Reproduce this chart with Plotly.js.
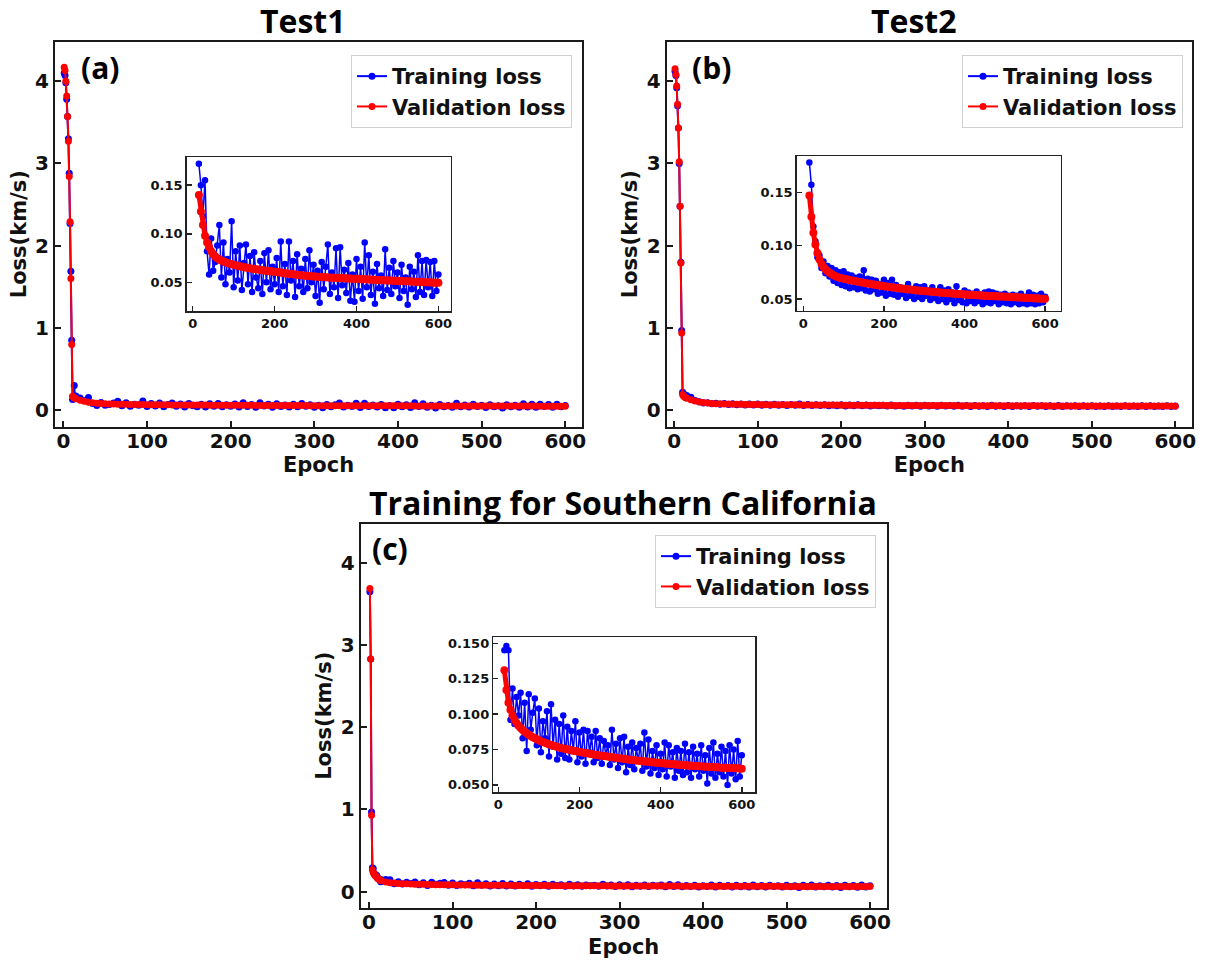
<!DOCTYPE html>
<html>
<head>
<meta charset="utf-8">
<script src="https://cdn.plot.ly/plotly-3.0.1.min.js"></script>
<style>
html,body{margin:0;padding:0;background:#ffffff;}
#chart{width:1206px;height:960px;}
</style>
</head>
<body>
<div id="chart"></div>
<script>
// ---------------- DATA ----------------
const epochs = [1,2,3,4,5,6,7,8,9,10,11,12,13,14,
15,20,25,30,35,40,45,50,55,60,
65,70,75,80,85,90,95,100,105,110,
115,120,125,130,135,140,145,150,155,160,
165,170,175,180,185,190,195,200,205,210,
215,220,225,230,235,240,245,250,255,260,
265,270,275,280,285,290,295,300,305,310,
315,320,325,330,335,340,345,350,355,360,
365,370,375,380,385,390,395,400,405,410,
415,420,425,430,435,440,445,450,455,460,
465,470,475,480,485,490,495,500,505,510,
515,520,525,530,535,540,545,550,555,560,
565,570,575,580,585,590,595,600];

// Panel (a) Test1
const trainLossA = [4.10,4.07,3.98,3.78,3.57,3.30,2.88,2.27,1.69,0.85,0.13,0.16,0.30,0.14,
0.172,0.150,0.118,0.155,0.082,0.058,0.095,0.062,0.071,0.088,
0.109,0.055,0.091,0.048,0.074,0.060,0.113,0.045,0.082,0.052,
0.088,0.042,0.070,0.089,0.048,0.077,0.040,0.081,0.055,0.044,
0.072,0.038,0.080,0.050,0.083,0.043,0.066,0.048,0.075,0.040,
0.092,0.046,0.069,0.037,0.092,0.052,0.072,0.035,0.079,0.046,
0.064,0.040,0.074,0.044,0.083,0.050,0.068,0.036,0.062,0.029,
0.071,0.043,0.066,0.089,0.038,0.060,0.045,0.085,0.034,0.086,
0.047,0.063,0.039,0.070,0.031,0.058,0.030,0.074,0.041,0.066,
0.033,0.091,0.045,0.078,0.037,0.061,0.028,0.069,0.044,0.057,
0.036,0.084,0.042,0.065,0.038,0.072,0.046,0.060,0.034,0.068,
0.041,0.055,0.027,0.066,0.043,0.061,0.035,0.078,0.040,0.072,
0.037,0.073,0.045,0.071,0.036,0.072,0.041,0.058];
const valLossA = [4.17,4.13,4.00,3.82,3.57,3.27,2.84,2.29,1.60,0.80,0.170,0.158,0.150,0.145,
0.140,0.123,0.109,0.098,0.091,0.086,0.082,0.079,0.0765,0.0748,
0.0735,0.0724,0.0714,0.0706,0.0700,0.0692,0.0686,0.0680,0.0675,0.0670,
0.0665,0.0660,0.0656,0.0652,0.0648,0.0644,0.0640,0.0637,0.0634,0.0631,
0.0628,0.0625,0.0622,0.0619,0.0616,0.0614,0.0612,0.0609,0.0606,0.0603,
0.0600,0.0597,0.0594,0.0591,0.0588,0.0585,0.0582,0.0580,0.0577,0.0575,
0.0573,0.0571,0.0569,0.0567,0.0565,0.0563,0.0561,0.0559,0.0558,0.0556,
0.0555,0.0553,0.0552,0.0550,0.0549,0.0548,0.0547,0.0546,0.0545,0.0544,
0.0543,0.0542,0.0541,0.0540,0.0539,0.0538,0.0537,0.0536,0.0535,0.0534,
0.0532,0.0531,0.0530,0.0529,0.0528,0.0527,0.0526,0.0525,0.0524,0.0523,
0.0522,0.0521,0.0520,0.0519,0.0518,0.0517,0.0516,0.0515,0.0514,0.0513,
0.0512,0.0511,0.0510,0.0509,0.0508,0.0507,0.0506,0.0505,0.0504,0.0503,
0.0502,0.0501,0.0500,0.0499,0.0498,0.0497,0.0496,0.0495];

// Panel (b) Test2
const trainLossB = [4.12,4.07,3.92,3.70,3.43,3.00,2.48,1.80,0.97,0.22,0.20,0.19,0.17,0.16,
0.178,0.157,0.118,0.104,0.089,0.091,0.079,0.085,0.074,0.081,
0.071,0.079,0.067,0.077,0.065,0.075,0.063,0.076,0.062,0.073,
0.060,0.072,0.061,0.070,0.059,0.071,0.060,0.077,0.058,0.069,
0.057,0.068,0.059,0.067,0.055,0.064,0.056,0.068,0.053,0.065,
0.055,0.068,0.054,0.063,0.052,0.061,0.055,0.060,0.051,0.064,
0.053,0.059,0.050,0.062,0.052,0.061,0.050,0.062,0.053,0.058,
0.049,0.061,0.051,0.057,0.048,0.061,0.050,0.058,0.047,0.059,
0.050,0.056,0.046,0.062,0.049,0.055,0.047,0.058,0.046,0.056,
0.048,0.055,0.046,0.057,0.048,0.054,0.045,0.056,0.047,0.057,
0.046,0.056,0.048,0.055,0.045,0.054,0.047,0.055,0.046,0.053,
0.045,0.054,0.047,0.053,0.045,0.055,0.046,0.052,0.045,0.056,
0.046,0.054,0.045,0.053,0.046,0.055,0.047,0.052];
const valLossB = [4.15,4.08,3.94,3.72,3.43,3.02,2.48,1.79,0.94,0.19,0.175,0.165,0.157,0.152,
0.147,0.127,0.112,0.101,0.093,0.087,0.083,0.0800,0.0778,0.0760,
0.0745,0.0733,0.0723,0.0714,0.0707,0.0700,0.0695,0.0690,0.0686,0.0682,
0.0678,0.0674,0.0670,0.0666,0.0662,0.0658,0.0655,0.0651,0.0648,0.0645,
0.0642,0.0638,0.0635,0.0632,0.0629,0.0626,0.0623,0.0620,0.0617,0.0614,
0.0612,0.0609,0.0607,0.0604,0.0602,0.0599,0.0597,0.0595,0.0592,0.0590,
0.0588,0.0586,0.0584,0.0582,0.0580,0.0578,0.0576,0.0574,0.0572,0.0570,
0.0569,0.0567,0.0565,0.0563,0.0562,0.0560,0.0559,0.0557,0.0556,0.0554,
0.0553,0.0551,0.0550,0.0548,0.0547,0.0546,0.0544,0.0543,0.0542,0.0540,
0.0539,0.0538,0.0537,0.0535,0.0534,0.0533,0.0532,0.0531,0.0530,0.0529,
0.0528,0.0527,0.0526,0.0525,0.0524,0.0523,0.0522,0.0521,0.0520,0.0519,
0.0518,0.0517,0.0516,0.0515,0.0514,0.0513,0.0512,0.0511,0.0510,0.0509,
0.0508,0.0507,0.0506,0.0505,0.0504,0.0503,0.0502,0.0501];

// Panel (c) Training for Southern California
const trainLossC = [3.65,2.83,0.97,0.29,0.28,0.22,0.21,0.19,0.20,0.17,0.16,0.15,0.14,0.12,
0.145,0.148,0.145,0.096,0.118,0.093,0.112,0.099,0.115,0.083,
0.108,0.074,0.114,0.089,0.101,0.111,0.078,0.104,0.073,0.095,
0.083,0.102,0.070,0.107,0.077,0.096,0.068,0.093,0.072,0.099,
0.069,0.091,0.068,0.088,0.074,0.095,0.066,0.087,0.070,0.089,
0.065,0.088,0.073,0.084,0.066,0.088,0.069,0.083,0.065,0.081,
0.071,0.078,0.064,0.089,0.068,0.079,0.062,0.083,0.066,0.084,
0.059,0.077,0.064,0.080,0.061,0.076,0.067,0.079,0.060,0.087,
0.063,0.082,0.058,0.074,0.062,0.078,0.057,0.072,0.061,0.080,
0.056,0.078,0.063,0.073,0.055,0.076,0.060,0.074,0.057,0.079,
0.059,0.073,0.055,0.077,0.061,0.072,0.056,0.078,0.060,0.071,
0.051,0.076,0.058,0.080,0.055,0.072,0.059,0.077,0.056,0.074,
0.050,0.078,0.058,0.075,0.054,0.081,0.056,0.071];
const valLossC = [3.69,2.83,0.93,0.265,0.235,0.215,0.200,0.188,0.176,0.166,0.157,0.149,0.142,0.136,
0.131,0.117,0.108,0.103,0.0990,0.0960,0.0937,0.0918,0.0902,0.0888,
0.0876,0.0865,0.0855,0.0845,0.0837,0.0829,0.0822,0.0815,0.0809,0.0803,
0.0797,0.0792,0.0787,0.0782,0.0777,0.0773,0.0769,0.0765,0.0761,0.0758,
0.0754,0.0751,0.0748,0.0745,0.0742,0.0739,0.0736,0.0733,0.0730,0.0728,
0.0725,0.0723,0.0720,0.0718,0.0715,0.0713,0.0711,0.0708,0.0706,0.0704,
0.0702,0.0700,0.0698,0.0696,0.0694,0.0692,0.0690,0.0688,0.0686,0.0684,
0.0682,0.0680,0.0678,0.0676,0.0675,0.0673,0.0671,0.0670,0.0668,0.0666,
0.0665,0.0663,0.0662,0.0660,0.0659,0.0657,0.0656,0.0655,0.0653,0.0652,
0.0650,0.0649,0.0648,0.0647,0.0645,0.0644,0.0643,0.0642,0.0641,0.0640,
0.0638,0.0637,0.0636,0.0635,0.0634,0.0633,0.0632,0.0631,0.0630,0.0629,
0.0628,0.0627,0.0627,0.0626,0.0625,0.0624,0.0623,0.0622,0.0622,0.0621,
0.0620,0.0619,0.0619,0.0618,0.0617,0.0617,0.0616,0.0615];

const panelTitles = ['Test1', 'Test2', 'Training for Southern California'];
const panelLabels = ['(a)', '(b)', '(c)'];
const seriesNames = ['Training loss', 'Validation loss'];
const xTitle = 'Epoch';
const yTitle = 'Loss(km/s)';
const mainXTicks = [0, 100, 200, 300, 400, 500, 600];
const mainYTicks = [0, 1, 2, 3, 4];
const insetXTicks = [0, 200, 400, 600];
const insetYTicksAB = [0.05, 0.10, 0.15];
const insetYTicksC = [0.050, 0.075, 0.100, 0.125, 0.150];
const insetStartEpoch = 15;

// ---------------- STYLE / LAYOUT ----------------
const W = 1206, H = 960;
const BLUE = '#0000ff', RED = '#ff0000', INK = '#111111';
const FONT = 'DejaVu Sans';
const TITLE_FONT = 'Open Sans';
const px = v => v / W;
const py = v => 1 - v / H;

function sub(arr, start) {
  const n = Math.min(arr.length, epochs.length);
  const xs = [], ys = [];
  for (let i = 0; i < n; i++) {
    if (epochs[i] >= start) { xs.push(epochs[i]); ys.push(arr[i]); }
  }
  return {xs, ys};
}

const traces = [];
const panels = [
  {train: trainLossA, val: valLossA, main: 1, inset: 4, legend: 'legend'},
  {train: trainLossB, val: valLossB, main: 2, inset: 5, legend: 'legend2'},
  {train: trainLossC, val: valLossC, main: 3, inset: 6, legend: 'legend3'}
];
panels.forEach(p => {
  const xa = p.main === 1 ? 'x' : 'x' + p.main;
  const ya = p.main === 1 ? 'y' : 'y' + p.main;
  const n = Math.min(epochs.length, p.train.length, p.val.length);
  [[p.train, BLUE, seriesNames[0]], [p.val, RED, seriesNames[1]]].forEach(([arr, col, name]) => {
    traces.push({
      type: 'scatter', mode: 'lines+markers', name: name,
      x: epochs.slice(0, n), y: arr.slice(0, n), xaxis: xa, yaxis: ya,
      legend: p.legend, showlegend: true,
      line: {color: col, width: 2},
      marker: {color: col, size: 7}
    });
  });
  const ins = [[p.train, BLUE, 1.5, 6.5], [p.val, RED, 5, 8]];
  ins.forEach(([arr, col, lw, ms]) => {
    const s = sub(arr, insetStartEpoch);
    traces.push({
      type: 'scatter', mode: 'lines+markers', showlegend: false,
      x: s.xs, y: s.ys, xaxis: 'x' + p.inset, yaxis: 'y' + p.inset,
      line: {color: col, width: lw},
      marker: {color: col, size: ms}
    });
  });
});

const tickFontMain = {family: FONT, size: 20, weight: 'bold', color: INK};
const tickFontInset = {family: FONT, size: 13, weight: 'bold', color: INK};
const axisTitleFont = {family: FONT, size: 21, weight: 'bold', color: INK};

function mainX(domain, range, anchor) {
  return {domain, range, anchor, showline: true, mirror: true, linecolor: '#1a1a1a', linewidth: 2,
    ticks: 'inside', ticklen: 6, tickwidth: 2, tickcolor: '#1a1a1a', showgrid: false, zeroline: false,
    tickmode: 'array', tickvals: mainXTicks, tickfont: tickFontMain, automargin: false,
    ticklabelstandoff: -5,
    title: {text: xTitle, font: axisTitleFont, standoff: 6}};
}
function mainY(domain, range, anchor) {
  return {domain, range, anchor, showline: true, mirror: true, linecolor: '#1a1a1a', linewidth: 2,
    ticks: 'inside', ticklen: 6, tickwidth: 2, tickcolor: '#1a1a1a', showgrid: false, zeroline: false,
    tickmode: 'array', tickvals: mainYTicks, tickfont: tickFontMain, automargin: false,
    title: {text: yTitle, font: axisTitleFont, standoff: 3}};
}
function insetX(domain, range, anchor) {
  return {domain, range, anchor, showline: true, mirror: true, linecolor: '#222', linewidth: 1.5,
    ticks: 'inside', ticklen: 5, tickwidth: 1.5, tickcolor: '#222', showgrid: false, zeroline: false,
    tickmode: 'array', tickvals: insetXTicks, tickfont: tickFontInset, automargin: false};
}
function insetY(domain, range, anchor, vals, fmt) {
  return {domain, range, anchor, showline: true, mirror: true, linecolor: '#222', linewidth: 1.5,
    ticks: 'inside', ticklen: 5, tickwidth: 1.5, tickcolor: '#222', showgrid: false, zeroline: false,
    tickmode: 'array', tickvals: vals, tickformat: fmt, tickfont: tickFontInset, automargin: false};
}

const legendBase = {xanchor: 'right', yanchor: 'top', bgcolor: '#ffffff', bordercolor: '#d0d0d0', borderwidth: 1,
  font: {family: FONT, size: 21, weight: 'bold', color: INK}};

const titleFont = {family: TITLE_FONT, size: 32, weight: 'bold', color: '#000'};
const labelFont = {family: TITLE_FONT, size: 30, weight: 'bold', color: '#000'};

const layout = {
  width: W, height: H,
  margin: {l: 0, r: 0, t: 0, b: 0},
  paper_bgcolor: '#ffffff', plot_bgcolor: '#ffffff',
  showlegend: true,
  xaxis:  mainX([px(55), px(582)], [-10, 620], 'y'),
  yaxis:  mainY([py(426.7), py(41.7)], [-0.2, 4.48], 'x'),
  xaxis2: mainX([px(666.7), px(1192)], [-9, 620], 'y2'),
  yaxis2: mainY([py(426.7), py(41.7)], [-0.2, 4.48], 'x2'),
  xaxis3: mainX([px(360.7), px(886.7)], [-10, 620], 'y3'),
  yaxis3: mainY([py(908), py(523.5)], [-0.2, 4.48], 'x3'),
  xaxis4: insetX([px(186.7), px(450.7)], [-14.7, 630], 'y4'),
  yaxis4: insetY([py(311), py(157)], [0.0205, 0.179], 'x4', insetYTicksAB, '.2f'),
  xaxis5: insetX([px(796.7), px(1060.7)], [-16.4, 638.7], 'y5'),
  yaxis5: insetY([py(310.7), py(156)], [0.039, 0.184], 'x5', insetYTicksAB, '.2f'),
  xaxis6: insetX([px(493.3), px(755)], [-12.3, 632.6], 'y6'),
  yaxis6: insetY([py(792.3), py(637.3)], [0.0448, 0.1542], 'x6', insetYTicksC, '.3f'),
  legend:  Object.assign({x: px(572), y: py(55)}, legendBase),
  legend2: Object.assign({x: px(1183), y: py(55)}, legendBase),
  legend3: Object.assign({x: px(876), y: py(535)}, legendBase),
  annotations: [
    {text: panelTitles[0], x: px(303), y: py(21), xref: 'paper', yref: 'paper', showarrow: false, font: titleFont, xanchor: 'center', yanchor: 'middle'},
    {text: panelTitles[1], x: px(914), y: py(21), xref: 'paper', yref: 'paper', showarrow: false, font: titleFont, xanchor: 'center', yanchor: 'middle'},
    {text: panelTitles[2], x: px(623), y: py(502), xref: 'paper', yref: 'paper', showarrow: false, font: titleFont, xanchor: 'center', yanchor: 'middle'},
    {text: panelLabels[0], x: px(79), y: py(67), xref: 'paper', yref: 'paper', showarrow: false, font: labelFont, xanchor: 'left', yanchor: 'middle'},
    {text: panelLabels[1], x: px(690), y: py(67), xref: 'paper', yref: 'paper', showarrow: false, font: labelFont, xanchor: 'left', yanchor: 'middle'},
    {text: panelLabels[2], x: px(370), y: py(548), xref: 'paper', yref: 'paper', showarrow: false, font: labelFont, xanchor: 'left', yanchor: 'middle'}
  ]
};

Plotly.newPlot('chart', traces, layout, {staticPlot: true, displayModeBar: false});
</script>
</body>
</html>
